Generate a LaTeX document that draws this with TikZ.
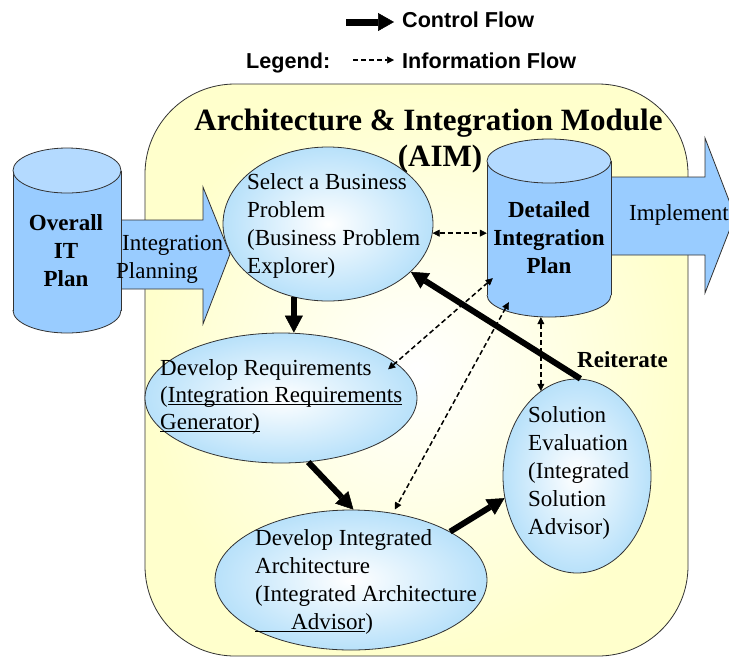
\documentclass[tikz,border=0pt]{standalone}
\usepackage{fontspec}
\setmainfont{Liberation Serif}
\newfontfamily\legendfont{Liberation Sans}
\usetikzlibrary{arrows.meta,shapes.geometric,calc}
\definecolor{cylblue}{RGB}{153,204,255}
\definecolor{cyltop}{RGB}{180,218,255}
\definecolor{ellblue}{RGB}{184,225,250}
\definecolor{aimyellow}{RGB}{255,255,204}
\definecolor{edgegray}{RGB}{50,50,50}
\newcommand\myul[1]{\setbox0\hbox{#1}\rlap{\rule[-2.5pt]{\wd0}{0.8pt}}\box0}
\begin{document}
\begin{tikzpicture}[x=1pt,y=-1pt,
  outl/.style={draw=edgegray, line width=0.8pt},
  proc/.style={ellipse, outl, inner color=white, outer color=ellblue, inner sep=0pt},
  txt/.style={font=\fontsize{23}{28}\selectfont, inner sep=0pt, align=left},
  btxt/.style={font=\fontsize{23}{28}\selectfont\bfseries, inner sep=0pt, align=center},
  ttl/.style={font=\fontsize{31}{37}\selectfont\bfseries, inner sep=0pt},
  lgd/.style={font=\legendfont\bfseries\fontsize{21.6}{26}\selectfont, inner sep=0pt},
  ctrl/.style={line width=6pt, -{Triangle[length=17pt,width=18pt,line width=0.5pt]}},
  ctrllgd/.style={line width=7pt, -{Triangle[length=16pt,width=18pt,line width=0.5pt]}},
  info/.style={line width=1.5pt, dash pattern=on 5pt off 3pt,
    {Triangle[length=7pt,width=7pt,line width=0.5pt]}-{Triangle[length=7pt,width=7pt,line width=0.5pt]}},
  infolgd/.style={line width=1.5pt, dash pattern=on 5pt off 3pt,
    -{Triangle[length=7pt,width=7pt,line width=0.5pt]}}]
\useasboundingbox (0,0) rectangle (729,657);
\fill[white] (0,0) rectangle (729,657);
% module background
\shadedraw[outl, rounded corners=90pt, inner color=white, outer color=aimyellow] (145,84) rectangle (688,656);
% block arrows
\draw[outl, fill=cylblue] (121,220) -- (203,220) -- (203,187) -- (230,254) -- (203,324) -- (203,289) -- (121,289) -- cycle;
\draw[outl, fill=cylblue] (611,177) -- (705,177) -- (705,138) -- (735,216) -- (705,293) -- (705,255) -- (611,255) -- cycle;
% cylinder 1
\fill[cylblue] (13,170.5) rectangle (121,310.5);
\fill[cylblue] (67,310.5) ellipse [x radius=54, y radius=22.5];
\draw[outl] (13,170.5) -- (13,310.5) (121,170.5) -- (121,310.5);
\begin{scope}
\clip (0,310.5) rectangle (140,340);
\draw[outl] (67,310.5) ellipse [x radius=54, y radius=22.5];
\end{scope}
\filldraw[outl, fill=cyltop] (67,170.5) ellipse [x radius=54, y radius=22.5];
\node[inner sep=0pt, minimum width=108pt, minimum height=185pt] (oit) at (67,240.5) {};
% cylinder 2
\fill[cylblue] (487,161) rectangle (611,295);
\fill[cylblue] (549,295) ellipse [x radius=62, y radius=22];
\draw[outl] (487,161) -- (487,295) (611,161) -- (611,295);
\begin{scope}
\clip (470,295) rectangle (630,325);
\draw[outl] (549,295) ellipse [x radius=62, y radius=22];
\end{scope}
\filldraw[outl, fill=cyltop] (549,161) ellipse [x radius=62, y radius=22];
\node[inner sep=0pt, minimum width=124pt, minimum height=178pt] (det) at (549,228) {};
% process ellipses
\node[proc, minimum width=210pt, minimum height=154pt] (sel) at (328,224) {};
\node[proc, minimum width=272pt, minimum height=130pt] (req) at (281,398) {};
\node[proc, minimum width=272pt, minimum height=140pt] (arch) at (351,580) {};
\node[proc, minimum width=148pt, minimum height=194pt] (sol) at (577,476) {};
% texts (base anchor = baseline of the last line)
\node[ttl, anchor=base] (title) at (428.5,130) {Architecture \& Integration Module};
\node[ttl, anchor=base] (aim) at (440,166) {(AIM)};
\node[txt, anchor=base west] (selt) at (247,273) {Select a Business\\Problem\\(Business Problem\\Explorer)};
\node[txt, anchor=base west, font=\fontsize{23}{27}\selectfont] (reqt) at (160,429) {Develop Requirements\\(\myul{Integration Requirements}\\\myul{Generator)}};
\node[txt, anchor=base west] (archt) at (255,629) {Develop Integrated\\Architecture\\(Integrated Architecture\\\myul{\hspace*{36pt}Advisor})};
\node[txt, anchor=base west] (solt) at (528,534) {Solution\\Evaluation\\(Integrated\\Solution\\Advisor)};
\node[btxt, anchor=base] (oitt) at (66,286) {Overall\\IT\\Plan};
\node[btxt, anchor=base] (dett) at (549,273) {Detailed\\Integration\\Plan};
\node[txt, anchor=base west] (ipt) at (116,278) {\hspace*{6pt}Integration\\Planning};
\node[txt, anchor=base west] (impt) at (629,220) {Implement};
\node[btxt, anchor=base west] (reit) at (577,367) {Reiterate};
% legend
\node[lgd, anchor=base west] (cf) at (402,27) {Control Flow};
\node[lgd, anchor=base west] (inf) at (402,68) {Information Flow};
\node[lgd, anchor=base west] (leg) at (246,68) {Legend:};
\coordinate (lc1) at (346,22);
\coordinate (lc2) at (394,22);
\coordinate (ld1) at (353,60);
\coordinate (ld2) at (394,60);
\draw[ctrllgd] (lc1) -- (lc2);
\draw[infolgd] (ld1) -- (ld2);
% information flows
\coordinate (detA) at ($(det.south west)+(6,-39)$);
\coordinate (detB) at ($(det.south west)+(22,-15)$);
\coordinate (reqin) at ($(req.center)!0.9!(req.15)$);
\draw[info] (sel.-5) -- (sel.-5 -| det.west);
\draw[info] (detA) -- (reqin);
\draw[info, shorten >=4pt] (detB) -- (arch.58);
\draw[info] (det.south -| sol.113) -- (sol.113);
% control flows
\draw[ctrl] (sel.-115) -- (sel.-115 |- req.north);
\draw[ctrl] (req.-67) -- (arch.88);
\draw[ctrl] (arch.26) -- (sol.197);
\draw[ctrl] (sol.88) -- (sel.-30);
\end{tikzpicture}
\end{document}
